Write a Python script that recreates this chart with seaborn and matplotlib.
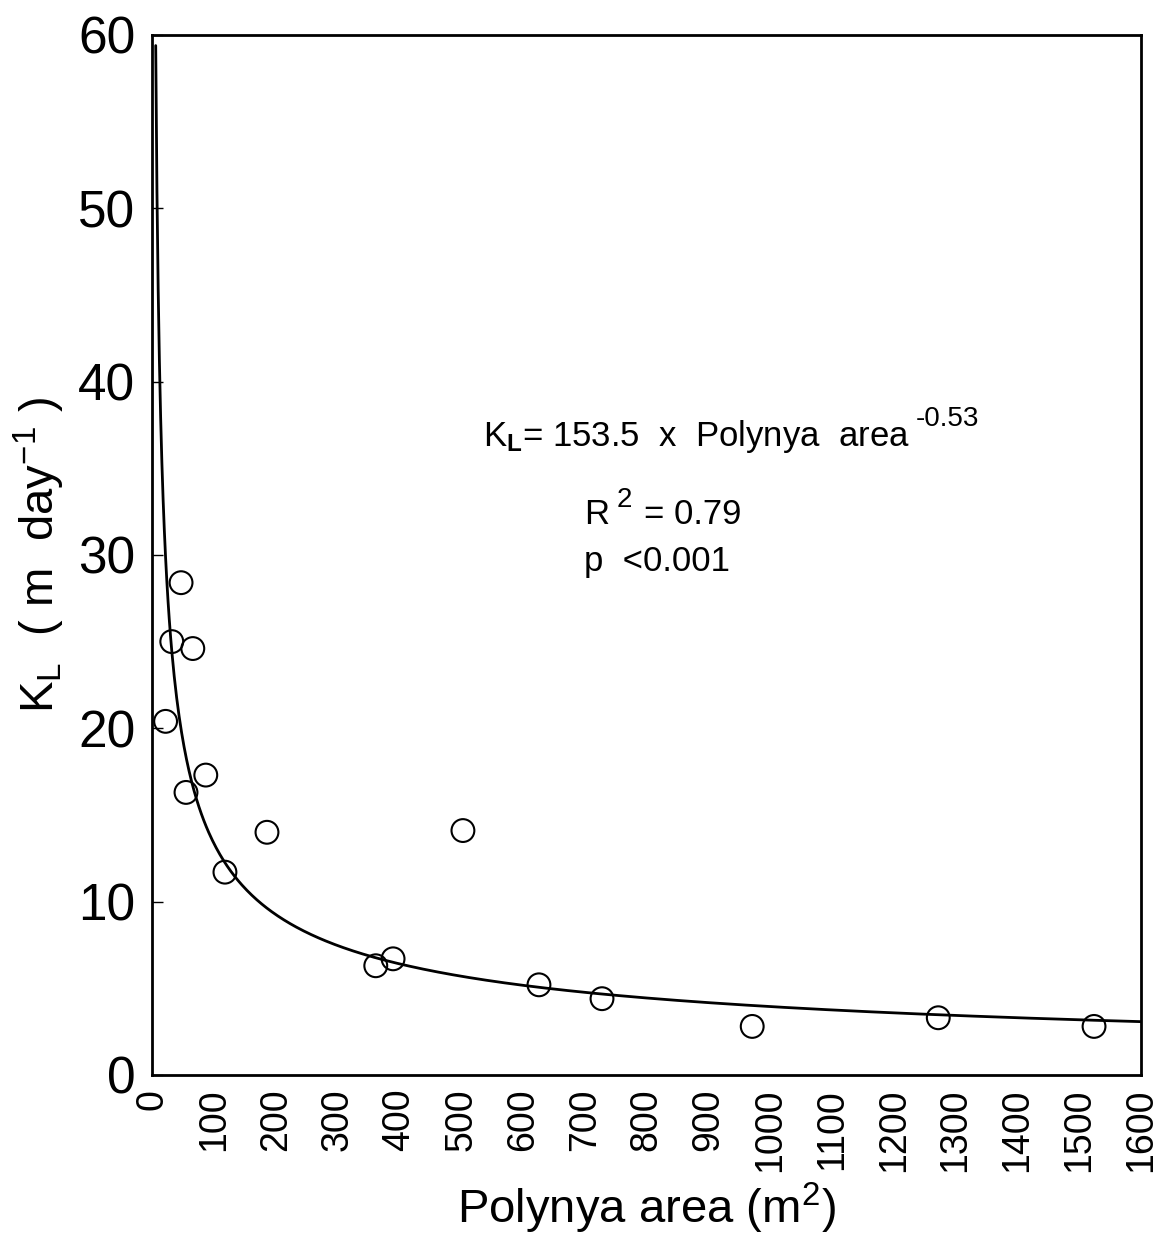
import numpy as np
import pandas as pd
import matplotlib
matplotlib.use("Agg")
import matplotlib.pyplot as plt
from matplotlib.transforms import offset_copy
import seaborn as sns

# Data
area = [22, 32, 47, 66, 55, 87, 118, 186, 362, 390, 503, 626, 728, 971, 1272, 1524]
kl = [20.4, 25.0, 28.4, 24.6, 16.3, 17.3, 11.7, 14.0, 6.3, 6.7, 14.1, 5.2, 4.4, 2.8, 3.3, 2.8]

# Fit coefficients printed on the chart
fit_a = 153.5
fit_b = -0.53
fit_x = np.linspace(6, 1600, 800)
fit_y = fit_a * fit_x ** fit_b

xticks = list(range(0, 1601, 100))
yticks = [0, 10, 20, 30, 40, 50, 60]

sns.set_theme(style="white")
plt.rcParams['font.family'] = ['Liberation Sans', 'DejaVu Sans']
plt.rcParams['mathtext.fontset'] = 'custom'
plt.rcParams['mathtext.rm'] = 'Liberation Sans'
plt.rcParams['mathtext.it'] = 'Liberation Sans'
plt.rcParams['mathtext.bf'] = 'Liberation Sans:bold'
plt.rcParams['axes.unicode_minus'] = False

fig = plt.figure(figsize=(11.63, 12.39), dpi=100)
ax = fig.add_axes([0.1307, 0.1324, 0.8504, 0.8394])

df_pts = pd.DataFrame({"area": area, "kl": kl})
df_fit = pd.DataFrame({"x": fit_x, "y": fit_y})

sns.lineplot(data=df_fit, x="x", y="y", ax=ax, color="black", linewidth=2.0, zorder=2)
sns.scatterplot(data=df_pts, x="area", y="kl", ax=ax, s=270, facecolor="none",
                edgecolor="black", linewidth=1.5, zorder=3)

ax.set_xlim(0, 1600)
ax.set_ylim(0, 60)
ax.set_xticks(xticks)
ax.set_yticks(yticks)
ax.set_xticklabels([str(t) for t in xticks], rotation=90, fontsize=27)
ax.set_yticklabels([str(t) for t in yticks], fontsize=37)
ax.tick_params(axis='y', direction='in', length=8, width=1, left=True, pad=12, colors='black')
ax.tick_params(axis='x', length=0, pad=10, colors='black')

for s in ax.spines.values():
    s.set_color('black')
    s.set_linewidth(2)

ax.set_xlabel("Polynya area (m$^{2}$)", fontsize=34, labelpad=6, color='black')
ax.set_ylabel("K$_{\\mathrm{L}}$  ( m  day$^{\\mathrm{-1}}$ )", fontsize=34, labelpad=8, color='black')

fs = 25
t1 = ax.text(0.335, 0.605, "K$_{\\mathbf{L}}$= 153.5  x  Polynya  area",
             transform=ax.transAxes, fontsize=fs, color='black', ha='left', va='baseline')
tR = ax.text(0.437, 0.53, "R", transform=ax.transAxes, fontsize=fs,
             color='black', ha='left', va='baseline')
ax.text(0.4975, 0.53, "= 0.79", transform=ax.transAxes, fontsize=fs,
        color='black', ha='left', va='baseline')
ax.text(0.437, 0.485, "p  <0.001", transform=ax.transAxes, fontsize=fs,
        color='black', ha='left', va='baseline')

fig.canvas.draw()
r = fig.canvas.get_renderer()
inv = ax.transAxes.inverted()
bb = t1.get_window_extent(r)
x_end = inv.transform((bb.x1, bb.y0))[0]
ax.text(x_end + 0.006, 0.605, "-0.53",
        transform=offset_copy(ax.transAxes, fig=fig, y=14, units='points'),
        fontsize=20, color='black', ha='left', va='baseline')
bbR = tR.get_window_extent(r)
xR = inv.transform((bbR.x1, bbR.y0))[0]
ax.text(xR + 0.007, 0.53, "2",
        transform=offset_copy(ax.transAxes, fig=fig, y=12, units='points'),
        fontsize=20, color='black', ha='left', va='baseline')

fig.savefig("out.png", dpi=100, facecolor="white")
